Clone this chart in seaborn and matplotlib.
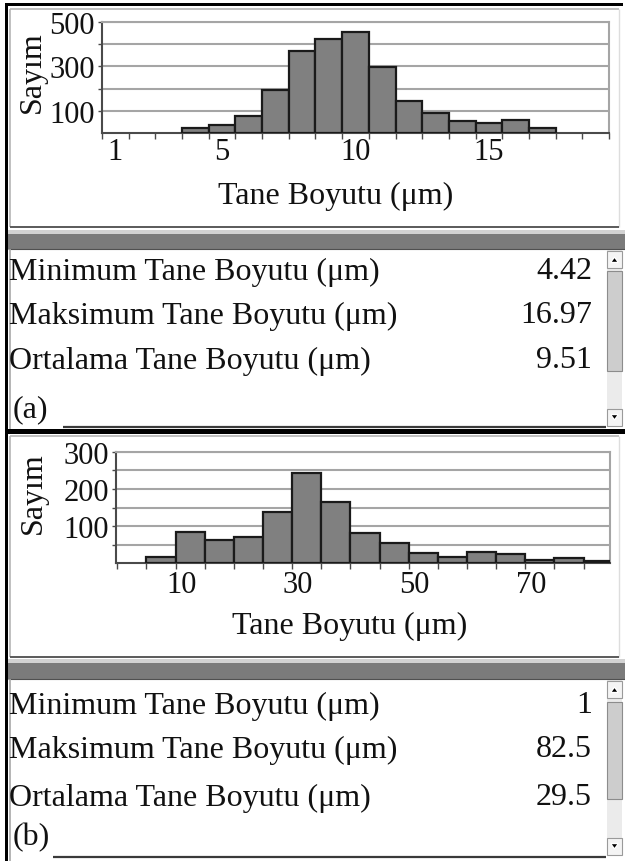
import numpy as np
import seaborn as sns
import matplotlib.pyplot as plt
from matplotlib.patches import Rectangle, Polygon

# panel (a) histogram, bins of width 1 centred on integers
a_centers = [4, 5, 6, 7, 8, 9, 10, 11, 12, 13, 14, 15, 16, 17]
a_counts = [25, 37, 78, 194, 370, 421, 452, 296, 145, 90, 55, 46, 60, 25]
a_edges = [3.5, 4.5, 5.5, 6.5, 7.5, 8.5, 9.5, 10.5, 11.5, 12.5, 13.5, 14.5, 15.5, 16.5, 17.5]
a_xticks = [1, 5, 10, 15]
a_ygrid = [100, 200, 300, 400, 500]
a_ylabels = [100, 300, 500]
a_stats = ["4.42", "16.97", "9.51"]

# panel (b) histogram, bins of width 5
b_centers = [6.5, 11.5, 16.5, 21.5, 26.5, 31.5, 36.5, 41.5, 46.5, 51.5, 56.5, 61.5, 66.5, 71.5, 76.5, 81.5]
b_counts = [18, 85, 63, 70, 139, 244, 165, 81, 55, 29, 17, 30, 24, 10, 13, 5]
b_edges = [4, 9, 14, 19, 24, 29, 34, 39, 44, 49, 54, 59, 64, 69, 74, 79, 84]
b_xticks = [10, 30, 50, 70]
b_ygrid = [50, 100, 150, 200, 250, 300]
b_ylabels = [100, 200, 300]
b_stats = ["1", "82.5", "29.5"]

stat_names = ["Minimum Tane Boyutu (μm)", "Maksimum Tane Boyutu (μm)", "Ortalama Tane Boyutu (μm)"]
xlab = "Tane Boyutu (μm)"
ylab = "Sayım"

sns.set_theme(style="white")
plt.rcParams["font.family"] = ["Liberation Serif", "DejaVu Serif"]

W, H = 625, 862
fig = plt.figure(figsize=(W / 100, H / 100), dpi=100)


def px_box(l, t, r, b):
    return [l / W, 1 - b / H, (r - l) / W, (b - t) / H]


# background "window" drawn in pixel coordinates
bg = fig.add_axes([0, 0, 1, 1])
bg.set_xlim(0, W)
bg.set_ylim(H, 0)
bg.axis("off")


def rect(x0, y0, x1, y1, fc, ec="none", lw=0):
    bg.add_patch(Rectangle((x0, y0), x1 - x0, y1 - y0, fc=fc, ec=ec, lw=lw))


def hline(x0, x1, y, c, lw):
    bg.plot([x0, x1], [y, y], color=c, lw=lw, solid_capstyle="butt")


def vline(x, y0, y1, c, lw):
    bg.plot([x, x], [y0, y1], color=c, lw=lw, solid_capstyle="butt")


def scrollbar(top, bottom, thumb0, thumb1):
    x0, x1 = 607, 622
    rect(x0, top, x1, bottom, "#ebebeb")
    # up button
    rect(x0, top + 1, x1, top + 18, "#f4f4f4", "#9a9a9a", 0.8)
    bg.add_patch(Polygon([[610.5, top + 12.5], [618.5, top + 12.5], [614.5, top + 7]], fc="black"))
    # thumb
    rect(x0, thumb0, x1, thumb1, "#cdcdcd", "#8c8c8c", 0.8)
    # down button
    rect(x0, bottom - 18, x1, bottom - 1, "#f4f4f4", "#9a9a9a", 0.8)
    bg.add_patch(Polygon([[610.5, bottom - 12.5], [618.5, bottom - 12.5], [614.5, bottom - 7]], fc="black"))


def panel_chrome(box_top, box_bottom, sep_top, sep_bottom, panel_bottom):
    # chart frame
    vline(10, box_top, box_bottom, "#b5b5b5", 1.2)
    hline(10, 619, box_top, "#b5b5b5", 1.2)
    vline(619, box_top, box_bottom, "#dddddd", 1.0)
    hline(10, 619, box_bottom, "#5a5a5a", 1.4)
    # grey separator strip
    rect(8, sep_top, W, sep_top + 4, "#d2d2d2")
    rect(8, sep_top + 4, W, sep_bottom, "#7b7b7b")
    hline(8, W, sep_bottom, "#505050", 0.8)
    # statistics pane
    vline(10, sep_bottom, panel_bottom, "#a8a8a8", 1.2)


# outer frame
rect(5, 4, 623, 7, "black")
rect(5, 4, 8, H, "black")

panel_chrome(10, 228, 231, 250, 430)
panel_chrome(437, 658, 660, 680, H)
rect(5, 430, W, 435, "black")
scrollbar(251, 428, 272, 372)
scrollbar(681, 857, 703, 800)

fs_txt = 23
a_rows = [272, 316, 361]
b_rows = [706, 750, 798]
for names, vals, rows in [(stat_names, a_stats, a_rows), (stat_names, b_stats, b_rows)]:
    for n, v, y in zip(names, vals, rows):
        bg.text(9, y, n, fontsize=fs_txt, ha="left", va="center", color="#111111")
        bg.text(592, y, v, fontsize=fs_txt, ha="right", va="center", color="#111111")

bg.text(13, 410, "(a)", fontsize=fs_txt, ha="left", va="center", color="#111111")
hline(63, 606, 428, "#3a3a3a", 1.6)
bg.text(13, 838, "(b)", fontsize=fs_txt, ha="left", va="center", color="#111111")
hline(53, 606, 858, "#3a3a3a", 1.6)


def draw_hist(box, centers, counts, edges, xlim, minor_ticks, xticks, ygrid, ylabels,
              ylab_pos, xlab_pos, xpad):
    ax = fig.add_axes(px_box(*box))
    ax.set_facecolor("white")
    sns.histplot(x=centers, weights=counts, bins=edges, ax=ax, color="#808080",
                 edgecolor="#1a1a1a", linewidth=1.6, alpha=1, zorder=3)
    ax.set_xlim(*xlim)
    ax.set_ylim(0, ygrid[-1])
    ax.set_yticks(ygrid)
    ax.set_yticklabels([str(g) if g in ylabels else "" for g in ygrid])
    ax.set_xticks(xticks)
    ax.set_xticklabels([str(t) for t in xticks])
    ax.set_xticks(minor_ticks, minor=True)
    ax.yaxis.grid(True, color="#a5a5a5", lw=1.5)
    ax.set_axisbelow(True)
    for s in ["top", "right"]:
        ax.spines[s].set_color("#a5a5a5")
        ax.spines[s].set_linewidth(1.5)
    for s in ["left", "bottom"]:
        ax.spines[s].set_color("#4a4a4a")
        ax.spines[s].set_linewidth(1.5)
    ax.tick_params(axis="x", which="major", length=0, pad=xpad, labelsize=22, colors="#111111")
    ax.tick_params(axis="x", which="minor", length=4, width=1, color="#4a4a4a", bottom=True)
    ax.tick_params(axis="y", which="major", length=3, width=1, color="#4a4a4a", left=True,
                   pad=2, labelsize=22, labelcolor="#111111")
    ax.set_xlabel(xlab, fontsize=fs_txt, va="center", color="#111111")
    ax.set_ylabel(ylab, fontsize=fs_txt, va="center", color="#111111")
    ax.xaxis.set_label_coords(*xlab_pos)
    ax.yaxis.set_label_coords(*ylab_pos)
    return ax


draw_hist((102, 22.7, 609, 134.3), a_centers, a_counts, a_edges, (0.5, 19.5),
          np.arange(0.5, 19.6, 1.0), a_xticks, a_ygrid, a_ylabels,
          (-0.138, 0.56), (0.46, -0.56), 3)
draw_hist((115.6, 452.7, 609.8, 564.3), b_centers, b_counts, b_edges, (-1.3, 83.5),
          np.arange(-1, 84, 5), b_xticks, b_ygrid, b_ylabels,
          (-0.167, 0.64), (0.474, -0.56), 5)

fig.savefig("out.png", dpi=100)
